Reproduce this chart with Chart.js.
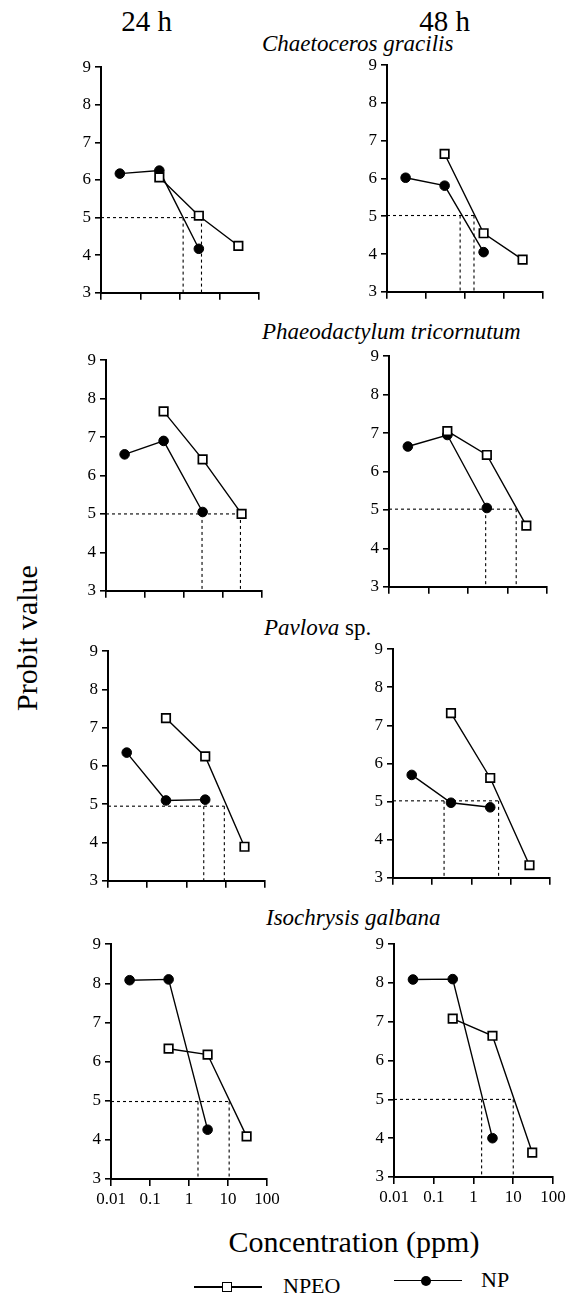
<!DOCTYPE html>
<html>
<head>
<meta charset="utf-8">
<script src="https://cdn.jsdelivr.net/npm/chart.js@4.4.0/dist/chart.umd.min.js"></script>
<style>
body { margin: 0; background: #fff; width: 576px; height: 1295px; position: relative; overflow: hidden; font-family: "Liberation Serif", "Times New Roman", serif; color: #000; }
.t { position: absolute; white-space: nowrap; line-height: 1; }
.sp { font-style: italic; font-size: 23px; }
canvas { position: absolute; }
</style>
</head>
<body>

<div class="t" style="left:146.7px;top:6.5px;font-size:29px;transform:translateX(-50%)">24 h</div>
<div class="t" style="left:444.7px;top:6.5px;font-size:29px;transform:translateX(-50%)">48 h</div>

<div class="t sp" style="left:262px;top:31.5px">Chaetoceros gracilis</div>
<div class="t sp" style="left:262px;top:320px">Phaeodactylum tricornutum</div>
<div class="t sp" style="left:264px;top:616px">Pavlova <span style="font-style:normal">sp.</span></div>
<div class="t sp" style="left:266px;top:906px">Isochrysis galbana</div>

<div class="t" style="left:27px;top:638px;font-size:30px;transform:translate(-50%,-50%) rotate(-90deg)">Probit value</div>
<div class="t" style="left:354px;top:1227px;font-size:30px;transform:translateX(-50%)">Concentration (ppm)</div>

<!-- legend -->
<div style="position:absolute;left:194px;top:1286px;width:68px;height:1.5px;background:#000"></div>
<div style="position:absolute;left:222px;top:1282px;width:8px;height:8px;border:1.6px solid #000;background:#fff"></div>
<div class="t" style="left:283px;top:1274.5px;font-size:22px">NPEO</div>
<div style="position:absolute;left:394px;top:1279.5px;width:68px;height:1.5px;background:#000"></div>
<div style="position:absolute;left:421px;top:1275.5px;width:10px;height:10px;border-radius:50%;background:#000"></div>
<div class="t" style="left:481px;top:1268.5px;font-size:22px">NP</div>

<script>
// axes
const xTicks = [0.01, 0.1, 1, 10, 100];
const xTickLabels = ['0.01', '0.1', '1', '10', '100'];
const yTicks = [3, 4, 5, 6, 7, 8, 9];

// concentrations (ppm)
const concNP = [0.03, 0.3, 3];
const concNPEO = [0.3, 3, 30];

// probit values
const chaeto24NP = [6.17, 6.25, 4.17];
const chaeto24NPEO = [6.07, 5.05, 4.25];
const chaeto24LC50 = [1.2, 3.5];
const chaeto48NP = [6.02, 5.81, 4.05];
const chaeto48NPEO = [6.65, 4.55, 3.85];
const chaeto48LC50 = [0.75, 1.7];

const phaeo24NP = [6.55, 6.9, 5.05];
const phaeo24NPEO = [7.67, 6.42, 5.0];
const phaeo24LC50 = [2.9, 28];
const phaeo48NP = [6.65, 6.95, 5.05];
const phaeo48NPEO = [7.05, 6.43, 4.59];
const phaeo48LC50 = [2.8, 16.6];

const pav24NP = [6.35, 5.1, 5.12];
const pav24NPEO = [7.25, 6.25, 3.89];
const pav24LC50 = [2.75, 9.2];
const pav48NP = [5.7, 4.97, 4.85];
const pav48NPEO = [7.32, 5.62, 3.33];
const pav48LC50 = [0.2, 4.9];

const iso24NP = [8.08, 8.1, 4.26];
const iso24NPEO = [6.33, 6.18, 4.09];
const iso24LC50 = [1.7, 10.7];
const iso48NP = [8.09, 8.1, 4.0];
const iso48NPEO = [7.08, 6.64, 3.63];
const iso48LC50 = [1.6, 10];

// probit level of the dashed reference line in each panel
const refLevel = [5.0, 5.02, 5.0, 5.02, 4.95, 5.02, 4.98, 5.0];

// panel frames in page pixels: [x at 0.01, x at 100, y at 9, y at 3]
const frames = [
  [101, 259.4, 65, 297.7], [387, 543, 63, 296.7],
  [106, 262, 357.7, 595.7], [389, 547, 353.7, 591.7],
  [108, 265, 649, 885.7], [392.5, 549.4, 646.7, 883],
  [111, 267, 942, 1179], [394, 553, 941.7, 1177]
];

const panels = [
  [chaeto24NP, chaeto24NPEO, chaeto24LC50], [chaeto48NP, chaeto48NPEO, chaeto48LC50],
  [phaeo24NP, phaeo24NPEO, phaeo24LC50], [phaeo48NP, phaeo48NPEO, phaeo48LC50],
  [pav24NP, pav24NPEO, pav24LC50], [pav48NP, pav48NPEO, pav48LC50],
  [iso24NP, iso24NPEO, iso24LC50], [iso48NP, iso48NPEO, iso48LC50]
];

const YW = 34, PT = 12, PR = 20;
const tickFont = { family: "'Liberation Serif', 'Times New Roman', serif", size: 17 };
const pts = (xs, ys) => xs.map((x, i) => ({ x: x, y: ys[i] }));

panels.forEach((p, k) => {
  const [np, npeo, lc50] = p;
  const [ax, x100, y9, y3] = frames[k];
  const bottom = k >= 6;
  const XH = bottom ? 32 : 9;
  const ref = refLevel[k];

  const c = document.createElement('canvas');
  const w = Math.round(YW + (x100 - ax) + PR);
  const h = Math.round(PT + (y3 - y9) + XH);
  c.width = w; c.height = h;
  c.style.width = w + 'px'; c.style.height = h + 'px';
  c.style.left = (ax - YW) + 'px';
  c.style.top = (y9 - PT) + 'px';
  document.body.appendChild(c);

  const dashed = { borderColor: '#000', borderWidth: 1.1, borderDash: [3, 3], pointRadius: 0, showLine: true, order: 3, clip: false };

  new Chart(c, {
    type: 'scatter',
    data: {
      datasets: [
        { data: pts(concNPEO, npeo), showLine: true, borderColor: '#000', borderWidth: 1.4,
          pointStyle: 'rect', pointRadius: 6, pointBackgroundColor: '#fff', pointBorderColor: '#000',
          pointBorderWidth: 1.7, order: 0, clip: false },
        { data: pts(concNP, np), showLine: true, borderColor: '#000', borderWidth: 1.4,
          pointStyle: 'circle', pointRadius: 4.8, pointBackgroundColor: '#000', pointBorderColor: '#000',
          pointBorderWidth: 1, order: 1, clip: false },
        Object.assign({ data: [{ x: 0.01, y: ref }, { x: Math.max(...lc50), y: ref }] }, dashed),
        ...lc50.map(v => Object.assign({ data: [{ x: v, y: ref }, { x: v, y: 3 }] }, dashed))
      ]
    },
    options: {
      responsive: false,
      animation: false,
      devicePixelRatio: 1,
      events: [],
      layout: { padding: { top: PT, right: PR, left: 0, bottom: 0 } },
      plugins: { legend: { display: false }, tooltip: { enabled: false } },
      scales: {
        x: {
          type: 'logarithmic', min: 0.01, max: 100,
          afterBuildTicks: s => { s.ticks = xTicks.map(v => ({ value: v })); },
          afterFit: s => { s.height = XH; },
          border: { display: true, color: '#000', width: 2 },
          grid: { display: true, drawOnChartArea: false, drawTicks: true, tickLength: 7, color: '#000', lineWidth: 1.6 },
          ticks: { display: bottom, autoSkip: false, maxRotation: 0, padding: 3, color: '#000', font: tickFont,
                   callback: (v, i) => xTickLabels[i] }
        },
        y: {
          min: 3, max: 9,
          afterBuildTicks: s => { s.ticks = yTicks.map(v => ({ value: v })); },
          afterFit: s => { s.width = YW; },
          border: { display: true, color: '#000', width: 2 },
          grid: { display: true, drawOnChartArea: false, drawTicks: true, tickLength: 6, color: '#000', lineWidth: 1.6 },
          ticks: { padding: 4, color: '#000', font: tickFont }
        }
      }
    }
  });
});
</script>
</body>
</html>
